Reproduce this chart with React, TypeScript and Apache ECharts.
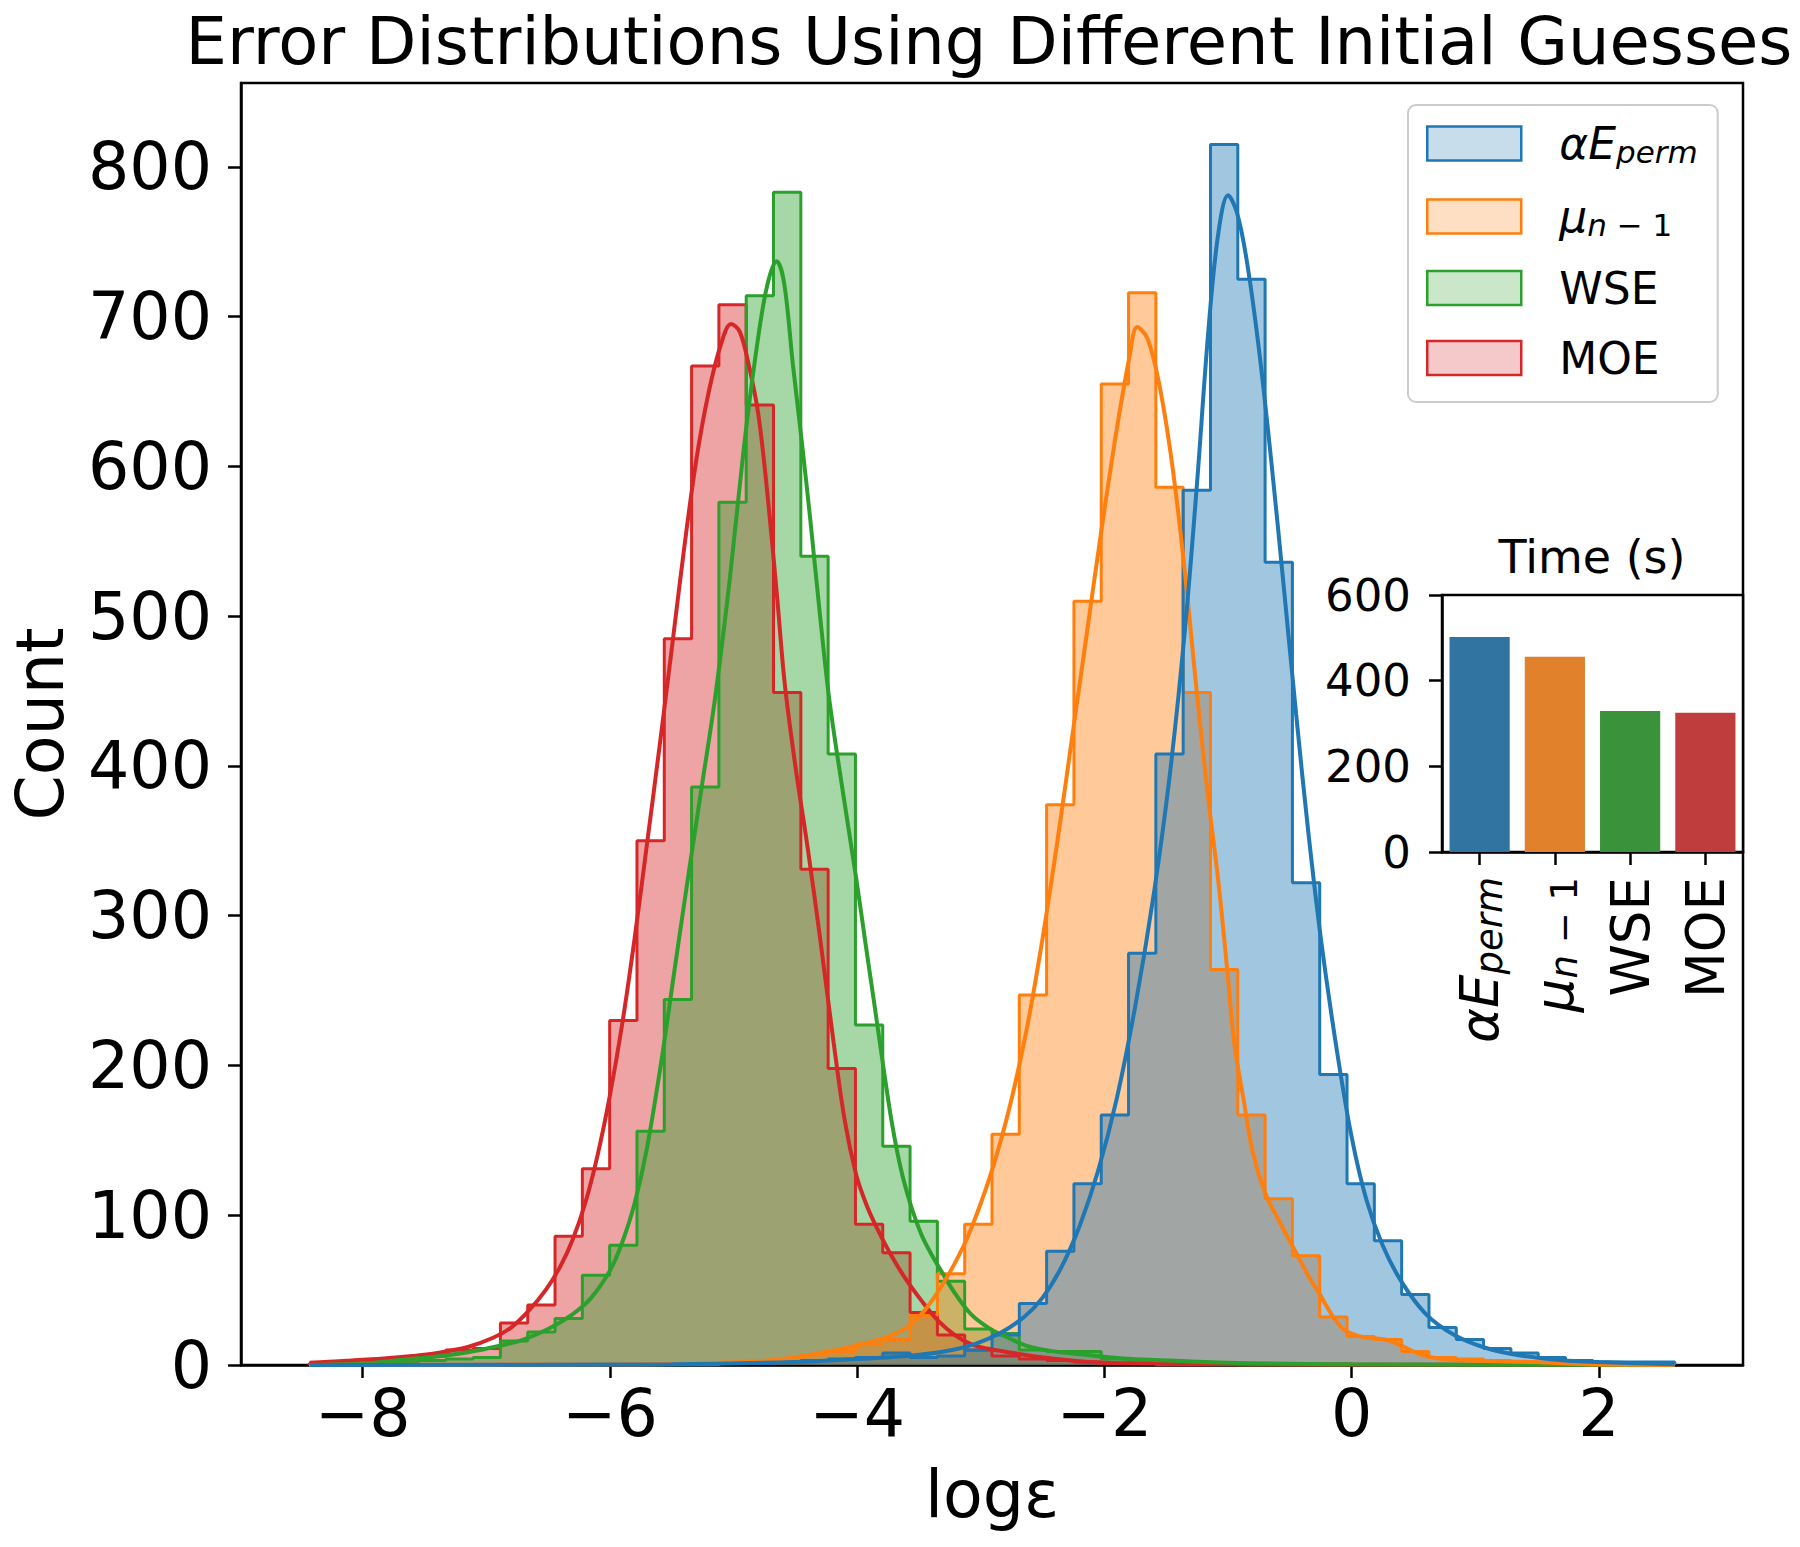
import React, { useEffect, useRef } from 'react';
import * as echarts from 'echarts';

const FONT = 'DejaVu Sans';

// Common histogram bins (50 bins)
const BIN_START = -8.432;
const BIN_WIDTH = 0.2209;

// Histogram counts per bin (k = 0..49)
const HIST_AEPERM = [
  0, 0, 0, 0, 0, 0, 0, 0, 0, 0,
  0, 0, 0, 0, 0, 1, 1, 2, 3, 4,
  5, 8, 5, 6, 10, 20, 41, 76, 121, 167,
  275, 408, 584, 815, 725, 536, 322, 194, 121, 83,
  47, 25, 17, 11, 8, 5, 3, 2, 2, 2,
];
const HIST_MU = [
  0, 0, 0, 0, 0, 0, 0, 0, 0, 0,
  0, 0, 0, 1, 1, 2, 3, 4, 7, 9,
  14, 17, 33, 61, 94, 154, 247, 374, 510, 655,
  716, 586, 449, 264, 167, 111, 73, 32, 19, 17,
  9, 5, 4, 3, 2, 1, 0, 0, 0, 0,
];
const HIST_WSE = [
  0, 0, 1, 2, 3, 4, 5, 16, 22, 31,
  60, 80, 156, 244, 386, 576, 714, 783, 540, 408,
  227, 146, 96, 56, 24, 21, 10, 9, 9, 4,
  2, 2, 1, 1, 0, 0, 0, 0, 0, 0,
  0, 0, 0, 0, 0, 0, 0, 0, 0, 0,
];
const HIST_MOE = [
  1, 1, 2, 4, 6, 10, 11, 28, 40, 86,
  131, 230, 350, 485, 667, 708, 641, 449, 331, 198,
  94, 75, 35, 20, 10, 6, 4, 3, 2, 1,
  1, 0, 0, 0, 0, 0, 0, 0, 0, 0,
  0, 0, 0, 0, 0, 0, 0, 0, 0, 0,
];

// KDE curves: [logε, count]
const KDE_AEPERM = [
  [-8.43, 0], [-5.5, 0.5], [-4.5, 2], [-4.0, 4], [-3.6, 6], [-3.3, 9], [-3.05, 14], [-2.85, 21],
  [-2.65, 32], [-2.5, 45], [-2.35, 65], [-2.2, 93], [-2.05, 130], [-1.9, 178], [-1.75, 240],
  [-1.6, 315], [-1.47, 395], [-1.35, 490], [-1.25, 590], [-1.16, 690], [-1.08, 755], [-1.0, 781],
  [-0.93, 770], [-0.85, 738], [-0.75, 678], [-0.65, 603], [-0.55, 520], [-0.45, 435], [-0.35, 355],
  [-0.25, 285], [-0.12, 210], [0.0, 152], [0.12, 110], [0.25, 80], [0.4, 56], [0.6, 34],
  [0.83, 20], [1.08, 11.5], [1.35, 6.5], [1.7, 3.2], [2.0, 2], [2.61, 0.5],
];
const KDE_MU = [
  [-8.43, 0], [-6.0, 0.5], [-5.0, 1.5], [-4.6, 4], [-4.3, 8], [-4.0, 13], [-3.75, 19], [-3.6, 25],
  [-3.48, 34], [-3.37, 46], [-3.25, 62], [-3.12, 83], [-3.0, 108], [-2.88, 138], [-2.75, 178],
  [-2.62, 228], [-2.5, 285], [-2.38, 350], [-2.26, 420], [-2.14, 490], [-2.02, 560], [-1.9, 625],
  [-1.8, 672], [-1.734, 693], [-1.65, 685], [-1.55, 652], [-1.45, 600], [-1.35, 530], [-1.26, 455],
  [-1.17, 385], [-1.075, 320], [-1.0, 258], [-0.95, 215], [-0.87, 175], [-0.8, 142], [-0.7, 115],
  [-0.58, 95], [-0.45, 75], [-0.36, 61], [-0.25, 46], [-0.14, 31], [-0.05, 23], [0.05, 19.5],
  [0.15, 18], [0.27, 17], [0.4, 13], [0.5, 9], [0.62, 5.5], [0.8, 3.5], [0.94, 3], [1.48, 2],
  [1.9, 0.5], [2.61, 0],
];
const KDE_WSE = [
  [-8.43, 0], [-8.0, 1], [-7.74, 3], [-7.42, 5.5], [-7.15, 8.5], [-6.91, 12.5], [-6.7, 17],
  [-6.5, 24], [-6.3, 34], [-6.15, 45], [-6.0, 63], [-5.9, 82], [-5.8, 108], [-5.7, 145],
  [-5.58, 205], [-5.47, 268], [-5.36, 330], [-5.25, 390], [-5.15, 445], [-5.03, 525], [-4.92, 610],
  [-4.82, 675], [-4.73, 720], [-4.651, 737], [-4.59, 722], [-4.52, 668], [-4.45, 618], [-4.38, 565],
  [-4.3, 500], [-4.225, 444], [-4.12, 385], [-4.008, 325], [-3.93, 280], [-3.863, 242], [-3.79, 200],
  [-3.72, 162], [-3.644, 130], [-3.56, 105], [-3.48, 87], [-3.4, 74], [-3.3, 60], [-3.21, 48],
  [-3.08, 34], [-2.94, 25], [-2.8, 19], [-2.62, 12.5], [-2.4, 9], [-2.12, 6.5], [-1.85, 4.4],
  [-1.58, 3.3], [-1.0, 1.5], [0, 0.5], [2.61, 0],
];
const KDE_MOE = [
  [-8.43, 1.5], [-8.1, 3], [-7.83, 4.4], [-7.6, 6], [-7.42, 7.7], [-7.15, 12], [-6.95, 18],
  [-6.8, 25], [-6.66, 36], [-6.52, 50], [-6.4, 66], [-6.3, 84], [-6.2, 108], [-6.1, 140],
  [-6.0, 180], [-5.9, 228], [-5.8, 285], [-5.7, 348], [-5.6, 412], [-5.5, 478], [-5.4, 545],
  [-5.3, 605], [-5.2, 650], [-5.1, 682], [-5.02, 695], [-4.95, 690], [-4.875, 667], [-4.8, 635],
  [-4.73, 585], [-4.65, 515], [-4.586, 455], [-4.5, 400], [-4.4, 345], [-4.3, 285], [-4.19, 215],
  [-4.1, 163], [-4.008, 127], [-3.93, 108], [-3.85, 93], [-3.75, 77], [-3.62, 59], [-3.48, 43],
  [-3.35, 30], [-3.21, 20], [-3.08, 14], [-2.95, 11], [-2.81, 9], [-2.54, 5.5], [-2.13, 2],
  [-1.6, 1], [0, 0.3], [2.61, 0],
];

// Inset: computation time
const METHODS = ['aEperm', 'mu', 'WSE', 'MOE'];
const TIME_SECONDS = [502, 456, 329, 325];

const X_TICKS = [-8, -6, -4, -2, 0, 2];
const Y_TICKS = [0, 100, 200, 300, 400, 500, 600, 700, 800];

const LINE_COLORS: Record<string, string> = {
  aEperm: '#1f77b4', mu: '#ff7f0e', WSE: '#2ca02c', MOE: '#d62728',
};
const LEGEND_FILLS: Record<string, string> = {
  aEperm: 'rgba(31,119,180,0.25)', mu: 'rgba(255,127,14,0.25)',
  WSE: 'rgba(44,160,44,0.25)', MOE: 'rgba(214,39,40,0.25)',
};
const BAR_COLORS: Record<string, string> = {
  aEperm: '#3274a1', mu: '#e1812c', WSE: '#3a923a', MOE: '#c03d3e',
};

const LABELS: Record<string, string> = {
  aEperm: '{m|αE}{s|perm}',
  mu: '{m|μ}{s|n}{t| − 1}',
  WSE: '{n|WSE}',
  MOE: '{n|MOE}',
};

function richFor(size: number) {
  const sub = Math.round(size * 0.7);
  const shift = Math.round(size * 0.36);
  return {
    m: { fontSize: size, fontStyle: 'italic', fontFamily: FONT, color: '#000', lineHeight: size },
    s: { fontSize: sub, fontStyle: 'italic', fontFamily: FONT, color: '#000', padding: [shift, 0, 0, 0], lineHeight: sub },
    t: { fontSize: sub, fontFamily: FONT, color: '#000', padding: [shift, 0, 0, 0], lineHeight: sub },
    n: { fontSize: size, fontFamily: FONT, color: '#000', lineHeight: size },
    g: { width: 33, fontSize: size, lineHeight: size },
  };
}

function stepData(counts: number[]) {
  const pts: number[][] = [[BIN_START, 0]];
  counts.forEach((c, k) => pts.push([BIN_START + k * BIN_WIDTH, c]));
  const end = BIN_START + counts.length * BIN_WIDTH;
  pts.push([end, counts[counts.length - 1]]);
  pts.push([end, 0]);
  return pts;
}

const fmtMinus = (v: number) => (v < 0 ? '\u2212' + Math.abs(v) : String(v));

export default function App() {
  const ref = useRef<HTMLDivElement>(null);
  useEffect(() => {
    if (!ref.current) return;
    const chart = echarts.init(ref.current, null, { renderer: 'svg' });
    const hists: Record<string, number[]> = { aEperm: HIST_AEPERM, mu: HIST_MU, WSE: HIST_WSE, MOE: HIST_MOE };
    const kdes: Record<string, number[][]> = { aEperm: KDE_AEPERM, mu: KDE_MU, WSE: KDE_WSE, MOE: KDE_MOE };
    const drawOrder = ['MOE', 'WSE', 'mu', 'aEperm'];
    const histSeries = drawOrder.map((key) => ({
      name: key,
      type: 'line',
      xAxisIndex: 0,
      yAxisIndex: 0,
      step: 'end',
      symbol: 'none',
      z: 2,
      lineStyle: { color: LINE_COLORS[key], width: 3 },
      itemStyle: { color: LINE_COLORS[key] },
      areaStyle: { color: LINE_COLORS[key], opacity: 0.42 },
      data: stepData(hists[key]),
    }));
    const kdeSeries = drawOrder.map((key) => ({
      name: key + ' kde',
      type: 'line',
      xAxisIndex: 0,
      yAxisIndex: 0,
      smooth: 0.35,
      symbol: 'none',
      z: 4,
      lineStyle: { color: LINE_COLORS[key], width: 4 },
      itemStyle: { color: LINE_COLORS[key] },
      data: kdes[key],
    }));
    const option: any = {
      animation: false,
      backgroundColor: '#fff',
      textStyle: { fontFamily: FONT },
      title: [
        {
          text: 'Error Distributions Using Different Initial Guesses',
          left: 984, top: 3, textAlign: 'center',
          textStyle: { fontSize: 65.5, fontWeight: 'normal', color: '#000', fontFamily: FONT },
        },
        {
          text: 'Time (s)',
          left: 1587, top: 529, textAlign: 'center',
          textStyle: { fontSize: 46, fontWeight: 'normal', color: '#000', fontFamily: FONT },
        },
      ],
      grid: [
        { left: 238, top: 83, width: 1505, height: 1282, show: true, borderColor: '#000', borderWidth: 2.5, backgroundColor: 'transparent' },
        { left: 1442, top: 595, width: 301, height: 257, show: true, borderColor: '#000', borderWidth: 2.5, backgroundColor: '#fff' },
      ],
      xAxis: [
        {
          type: 'value', gridIndex: 0, min: -8.984, max: 3.165,
          name: 'logε', nameLocation: 'middle', nameGap: 97,
          nameTextStyle: { fontSize: 65, color: '#000', fontFamily: FONT },
          axisLine: { show: true, onZero: false, lineStyle: { color: '#000', width: 2.5 } },
          axisTick: { show: true, customValues: X_TICKS, length: 13, lineStyle: { color: '#000', width: 2.5 } },
          axisLabel: { customValues: X_TICKS, fontSize: 65, color: '#000', margin: 16, fontFamily: FONT, formatter: fmtMinus },
          splitLine: { show: false },
        },
        {
          type: 'category', gridIndex: 1, data: METHODS,
          axisLine: { show: true, lineStyle: { color: '#000', width: 2.5 } },
          axisTick: { show: true, alignWithLabel: true, length: 13, lineStyle: { color: '#000', width: 2.5 } },
          axisLabel: {
            rotate: 90, margin: 25, fontSize: 53, color: '#000', fontFamily: FONT,
            formatter: (v: string) => LABELS[v], rich: richFor(53),
          },
          splitLine: { show: false },
        },
      ],
      yAxis: [
        {
          type: 'value', gridIndex: 0, min: 0, max: 856,
          name: 'Count', nameLocation: 'middle', nameGap: 168,
          nameTextStyle: { fontSize: 65, color: '#000', fontFamily: FONT },
          axisLine: { show: true, onZero: false, lineStyle: { color: '#000', width: 2.5 } },
          axisTick: { show: true, customValues: Y_TICKS, length: 13, lineStyle: { color: '#000', width: 2.5 } },
          axisLabel: { customValues: Y_TICKS, fontSize: 65, color: '#000', margin: 29, fontFamily: FONT },
          splitLine: { show: false },
        },
        {
          type: 'value', gridIndex: 1, min: 0, max: 600, interval: 200,
          axisLine: { show: true, onZero: false, lineStyle: { color: '#000', width: 2.5 } },
          axisTick: { show: true, length: 13, lineStyle: { color: '#000', width: 2.5 } },
          axisLabel: { fontSize: 45, color: '#000', margin: 31, fontFamily: FONT },
          splitLine: { show: false },
        },
      ],
      legend: {
        orient: 'vertical', left: 1408, top: 105,
        itemWidth: 94, itemHeight: 34, itemGap: 26,
        padding: [15, 20, 22, 18],
        borderColor: '#cccccc', borderWidth: 2, borderRadius: 8, backgroundColor: '#fff',
        selectedMode: false,
        data: METHODS.map((key) => ({
          name: key, icon: 'rect',
          itemStyle: { color: LEGEND_FILLS[key], borderColor: LINE_COLORS[key], borderWidth: 2.5 },
        })),
        formatter: (name: string) => '{g| }' + LABELS[name],
        textStyle: { fontSize: 44, color: '#000', fontFamily: FONT, rich: richFor(44) },
      },
      series: [
        ...histSeries,
        ...kdeSeries,
        {
          name: 'time',
          type: 'bar',
          xAxisIndex: 1,
          yAxisIndex: 1,
          barWidth: '80%',
          z: 2,
          data: TIME_SECONDS.map((v, i) => ({ value: v, itemStyle: { color: BAR_COLORS[METHODS[i]] } })),
        },
      ],
    };
    chart.setOption(option);
    return () => chart.dispose();
  }, []);
  return (
    <div
      ref={ref}
      style={{ position: 'fixed', left: 0, top: 0, width: 1800, height: 1547, background: '#fff' }}
    />
  );
}
